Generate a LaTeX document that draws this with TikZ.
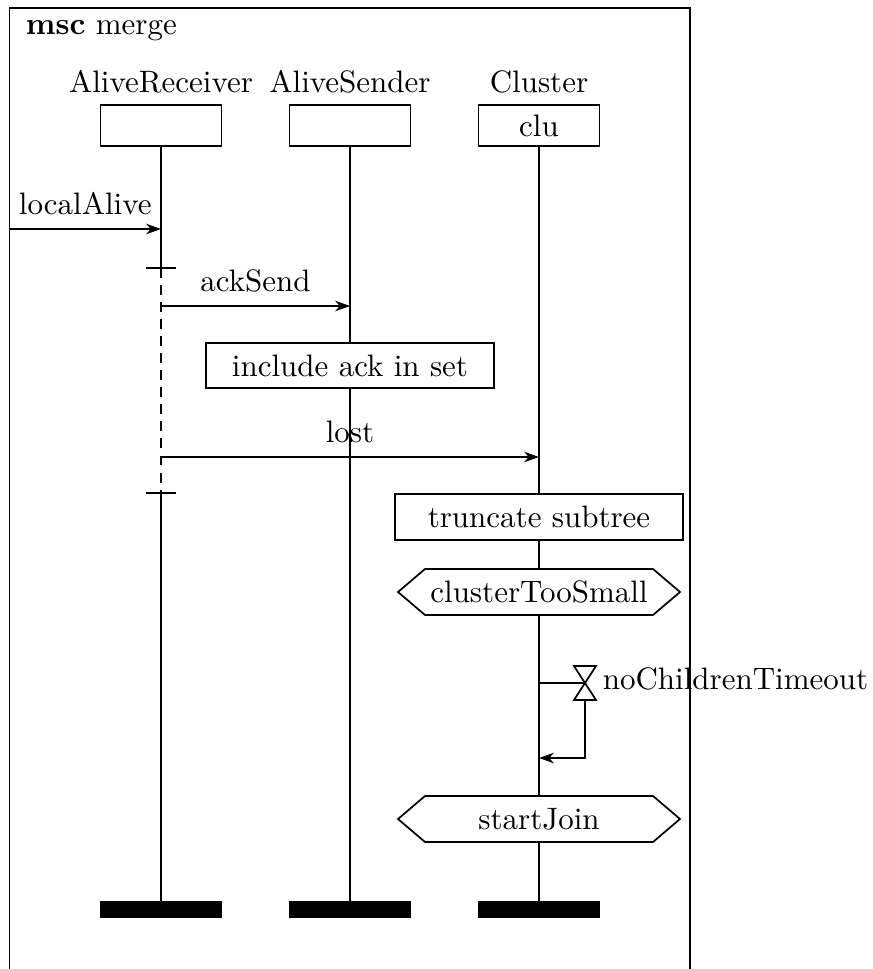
\documentclass[tikz,border=0pt]{standalone}
\usetikzlibrary{arrows.meta}
\begin{document}
\begin{tikzpicture}[x=0.3226pt, y=-0.3226pt, line width=0.55pt,
  msg/.style={-{Stealth[length=4.8pt,width=3.4pt,inset=1.5pt]}},
  msglabel/.style={above=4.3pt, inner sep=0pt},
  headbox/.style={draw, minimum width=39pt, minimum height=13.2pt, inner sep=0pt},
  endbar/.style={draw, fill=black, minimum width=39pt, minimum height=4.8pt, inner sep=0pt},
  actionbox/.style={draw, fill=white, minimum width=92.8pt, minimum height=14.7pt, inner sep=0pt},
  condshape/.style={draw, fill=white},
  instname/.style={anchor=base, inner sep=0pt}]
\useasboundingbox (0,0) rectangle (872,969);

% frame of the chart
\draw (9.5,969) -- (9.5,8) -- (690,8) -- (690,969);
\node[anchor=base west, inner sep=0pt] (title) at (25,35) {\textbf{msc} merge};

% instance heads
\node[instname] (arname) at (161,93) {AliveReceiver};
\node[instname] (asname) at (350,93) {AliveSender};
\node[instname] (clname) at (539,93) {Cluster};
\node[headbox] (ar) at (161,125.5) {};
\node[headbox] (as) at (350,125.5) {};
\node[headbox] (cl) at (539,125.5) {clu};

% instance ends
\node[endbar] (arend) at (161,909.5) {};
\node[endbar] (asend) at (350,909.5) {};
\node[endbar] (clend) at (539,909.5) {};

% coregion bounds on AliveReceiver
\coordinate (co1) at (161,268);
\coordinate (co2) at (161,493);

% lifelines
\draw (ar.south) -- (co1);
\draw[dash pattern=on 3.2pt off 2.3pt] (co1) -- (co2);
\draw (co2) -- (arend.north);
\draw (as.south) -- (asend.north);
\draw (cl.south) -- (clend.north);
\draw (146,268) -- (176,268);
\draw (146,493) -- (176,493);

% messages
\coordinate (env) at (9.5,229);
\coordinate (la) at (161,229);
\draw[msg] (env) -- node[msglabel] {localAlive} (la);

\coordinate (ack1) at (161,306);
\coordinate (ack2) at (350,306);
\draw[msg] (ack1) -- node[msglabel] {ackSend} (ack2);

\coordinate (lost1) at (161,457);
\coordinate (lost2) at (539,457);
\draw[msg] (lost1) -- node[msglabel] {lost} (lost2);

% actions
\node[actionbox] (inc) at (350,365.5) {include ack in set};
\node[actionbox] (trunc) at (539,517) {truncate subtree};

% conditions
\draw[condshape] (398,592) -- (425,569) -- (653,569) -- (680,592) -- (653,615) -- (425,615) -- cycle;
\node (cts) at (539,592) {clusterTooSmall};
\draw[condshape] (398,819) -- (425,796) -- (653,796) -- (680,819) -- (653,842) -- (425,842) -- cycle;
\node (sj) at (539,819) {startJoin};

% timer
\coordinate (tstart) at (539,683);
\coordinate (tset) at (585,683);
\coordinate (tbot) at (585,700);
\coordinate (tend) at (539,758);
\draw (tstart) -- (tset);
\draw (574,666) -- (596,666) -- (574,700) -- (596,700) -- cycle;
\draw[msg] (tbot) |- (tend);
\node[anchor=base west, inner sep=0pt] (tname) at (602,689) {noChildrenTimeout};
\end{tikzpicture}
\end{document}
